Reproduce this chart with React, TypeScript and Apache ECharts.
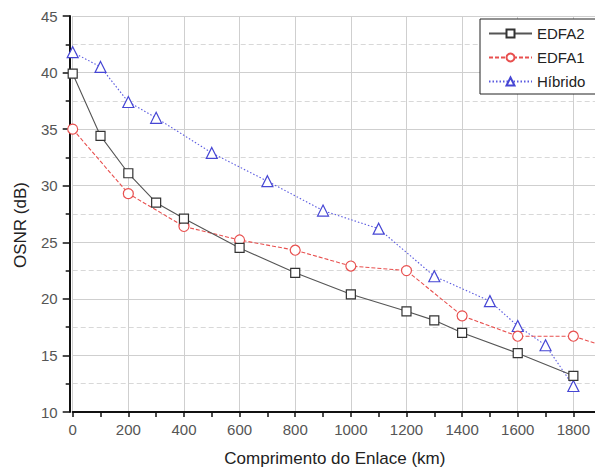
import React, { useEffect, useRef } from "react";
import * as echarts from "echarts";

const edfa2X = [0, 100, 200, 300, 400, 600, 800, 1000, 1200, 1300, 1400, 1600, 1800];
const edfa2Y = [39.9, 34.4, 31.1, 28.5, 27.1, 24.5, 22.3, 20.4, 18.9, 18.1, 17.0, 15.2, 13.2];
const edfa1X = [0, 200, 400, 600, 800, 1000, 1200, 1400, 1600, 1800, 1900];
const edfa1Y = [35.0, 29.3, 26.4, 25.2, 24.3, 22.9, 22.5, 18.5, 16.7, 16.7, 15.9];
const hibX = [0, 100, 200, 300, 500, 700, 900, 1100, 1300, 1500, 1600, 1700, 1800];
const hibY = [41.8, 40.5, 37.4, 36.0, 32.9, 30.4, 27.8, 26.2, 22.0, 19.8, 17.6, 15.9, 12.3];
const seriesNames = ["EDFA2", "EDFA1", "Híbrido"];

const zip = (xs: number[], ys: number[]) => xs.map((x, i) => [x, ys[i]]);

export default function App() {
  const ref = useRef<HTMLDivElement>(null);
  useEffect(() => {
    document.body.style.margin = "0";
    const chart = echarts.init(ref.current!, null, { renderer: "svg" });
    const font = "Liberation Sans, Arial, sans-serif";
    chart.setOption({
      animation: false,
      backgroundColor: "#fff",
      textStyle: { fontFamily: font },
      grid: {
        left: 72.7,
        right: -34,
        top: 16,
        bottom: 62,
        containLabel: false,
        outerBoundsMode: "none",
      },
      legend: {
        orient: "vertical",
        left: 480,
        top: 19,
        padding: [7, 40, 5, 8],
        borderColor: "#222",
        borderWidth: 1,
        backgroundColor: "#fff",
        itemWidth: 43,
        itemHeight: 10,
        itemGap: 9,
        textStyle: { fontSize: 15, color: "#222", fontFamily: font },
        data: seriesNames,
      },
      xAxis: {
        type: "value",
        min: 0,
        max: 2000,
        interval: 200,
        name: "Comprimento do Enlace (km)",
        nameLocation: "middle",
        nameGap: 38,
        nameTextStyle: { fontSize: 17, color: "#222", padding: [0, 32, 0, 0], fontFamily: font },
        axisLine: { show: true, onZero: false, lineStyle: { color: "#111", width: 2 } },
        axisTick: { show: true, length: 5, lineStyle: { color: "#111", width: 1.5 } },
        minorTick: { show: true, splitNumber: 2, length: 5, lineStyle: { color: "#111", width: 1.5 } },
        axisLabel: {
          fontSize: 15,
          color: "#555",
          margin: 10,
          fontFamily: font,
          formatter: (v: number) => (v > 1800 ? "" : String(v)),
        },
        splitLine: { show: true, lineStyle: { color: "#cfcfcf", width: 1 } },
      },
      yAxis: {
        type: "value",
        min: 10,
        max: 45,
        interval: 5,
        offset: 3,
        name: "OSNR (dB)",
        nameLocation: "middle",
        nameGap: 41,
        nameTextStyle: { fontSize: 17, color: "#222", padding: [0, 22, 0, 0], fontFamily: font },
        axisLine: { show: true, onZero: false, lineStyle: { color: "#111", width: 2 } },
        axisTick: { show: true, length: 7, lineStyle: { color: "#111", width: 1.5 } },
        minorTick: { show: true, splitNumber: 2, length: 4, lineStyle: { color: "#111", width: 1.5 } },
        axisLabel: { fontSize: 15, color: "#555", margin: 12, fontFamily: font, formatter: (v: number) => String(v) },
        splitLine: { show: true, lineStyle: { color: "#cfcfcf", width: 1 } },
        minorSplitLine: { show: true, lineStyle: { color: "#d8d8d8", width: 1, type: [5, 3] } },
      },
      series: [
        {
          name: seriesNames[0],
          type: "line",
          data: zip(edfa2X, edfa2Y),
          symbol: "rect",
          symbolSize: 9,
          itemStyle: { color: "#fff", borderColor: "#333", borderWidth: 1.2 },
          lineStyle: { color: "#555", width: 1.1, type: "solid" },
          z: 3,
        },
        {
          name: seriesNames[1],
          type: "line",
          data: zip(edfa1X, edfa1Y),
          symbol: "circle",
          symbolSize: 10,
          itemStyle: { color: "#fff", borderColor: "#e8504f", borderWidth: 1.2 },
          lineStyle: { color: "#e8504f", width: 1.1, type: [4, 2] },
          z: 2,
        },
        {
          name: seriesNames[2],
          type: "line",
          data: zip(hibX, hibY),
          symbol: "triangle",
          symbolSize: 11,
          itemStyle: { color: "#fff", borderColor: "#4646d4", borderWidth: 1.2 },
          lineStyle: { color: "#5a5ae0", width: 1.1, type: [1.5, 2] },
          z: 1,
        },
      ],
    });
    return () => chart.dispose();
  }, []);
  return <div ref={ref} style={{ width: 595, height: 474 }} />;
}
